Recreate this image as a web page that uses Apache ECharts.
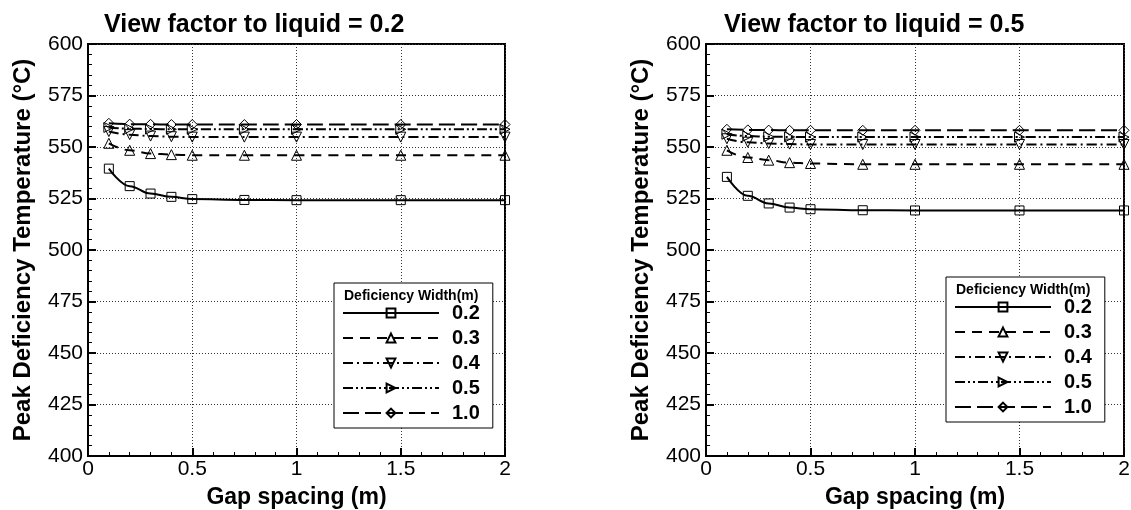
<!DOCTYPE html>
<html>
<head>
<meta charset="utf-8">
<script src="https://cdn.jsdelivr.net/npm/echarts@6/dist/echarts.min.js"></script>
<style>
html, body { margin: 0; padding: 0; background: #fff; }
#chart { width: 1131px; height: 510px; }
</style>
</head>
<body>
<div id="chart"></div>
<script>
// gap spacing (m)
var gaps = [0.1, 0.2, 0.3, 0.4, 0.5, 0.75, 1.0, 1.5, 2.0];
var widthNames = ['0.2', '0.3', '0.4', '0.5', '1.0'];

// view factor 0.2
var vf2_w02 = [539.5, 531, 527.4, 525.8, 524.7, 524.3, 524.2, 524.2, 524.2];
var vf2_w03 = [551.8, 548.4, 546.8, 546.3, 546, 546, 546, 546, 546];
var vf2_w04 = [557.5, 556, 555.3, 555, 554.8, 554.8, 554.8, 554.8, 554.8];
var vf2_w05 = [559.5, 558.9, 558.7, 558.6, 558.6, 558.6, 558.6, 558.6, 558.6];
var vf2_w10 = [561.5, 561.1, 561, 560.9, 560.9, 560.9, 560.9, 560.9, 560.9];

// view factor 0.5
var vf5_w02 = [535.5, 526.3, 522.6, 520.6, 519.8, 519.3, 519.2, 519.2, 519.2];
var vf5_w03 = [548.4, 544.9, 543.6, 542.4, 542, 541.6, 541.6, 541.6, 541.6];
var vf5_w04 = [554, 552.3, 551.7, 551.4, 551.2, 551.2, 551.2, 551.2, 551.2];
var vf5_w05 = [556.2, 555.3, 555, 554.9, 554.8, 554.8, 554.8, 554.8, 554.8];
var vf5_w10 = [558.6, 558.3, 558.2, 558.1, 558.1, 558.1, 558.1, 558.1, 558.1];

var yTicks = ['400', '425', '450', '475', '500', '525', '550', '575', '600'];

var FONT = 'Liberation Sans, Arial, Helvetica, sans-serif';

var styles = [
	{ symbol: 'rect', type: 'solid' },
	{ symbol: 'triangle', type: [10, 7] },
	{ symbol: 'path://M0,0 L10,0 L5,9 Z', type: [10, 4, 2, 4] },
	{ symbol: 'path://M0,0 L9,5 L0,10 Z', type: [10, 3, 2, 3, 2, 3] },
	{ symbol: 'diamond', type: [16, 6] }
];

function pairs(vals) {
	var out = [];
	for (var i = 0; i < gaps.length; i++) {
		out.push([gaps[i], vals[i]]);
	}
	return out;
}

function makeSeries(idx, sets) {
	var list = [];
	for (var i = 0; i < sets.length; i++) {
		list.push({
			name: widthNames[i],
			type: 'line',
			xAxisIndex: idx,
			yAxisIndex: idx,
			data: pairs(sets[i]),
			smooth: 0.4,
			smoothMonotone: 'x',
			symbol: styles[i].symbol,
			symbolSize: i == 0 ? 9 : 10,
			showAllSymbol: true,
			lineStyle: { color: '#000', width: 2, type: styles[i].type },
			itemStyle: { color: 'rgba(255,255,255,0)', borderColor: '#000', borderWidth: 1 },
			emphasis: { disabled: true },
			animation: false
		});
	}
	return list;
}

function xAxisDef(idx) {
	return {
		type: 'value', gridIndex: idx, min: 0, max: 2, interval: 0.5,
		name: 'Gap spacing (m)', nameLocation: 'middle', nameGap: 30,
		nameTextStyle: { fontFamily: FONT, fontSize: 23, fontWeight: 'bold', color: '#000' },
		axisLine: { lineStyle: { color: '#000', width: 2 } },
		axisTick: { inside: true, length: 8, lineStyle: { color: '#000', width: 2 } },
		minorTick: { show: true, splitNumber: 5, length: 4, lineStyle: { color: '#000', width: 1 } },
		axisLabel: { fontFamily: FONT, fontSize: 21, color: '#000', margin: 3,
			formatter: function(v) { return v.toString(); } },
		splitLine: { show: true, lineStyle: { color: '#333', width: 1, type: [1, 2] } }
	};
}

function yAxisDef(idx) {
	return {
		type: 'value', gridIndex: idx, min: 400, max: 600, interval: 25,
		name: 'Peak Deficiency Temperature (°C)', nameLocation: 'middle', nameGap: 53,
		nameTextStyle: { fontFamily: FONT, fontSize: 24, fontWeight: 'bold', color: '#000' },
		axisLine: { lineStyle: { color: '#000', width: 2 } },
		axisTick: { inside: true, length: 8, lineStyle: { color: '#000', width: 2 } },
		minorTick: { show: true, splitNumber: 5, length: 4, lineStyle: { color: '#000', width: 1 } },
		axisLabel: { fontFamily: FONT, fontSize: 21, color: '#000', margin: 5,
			formatter: function(v) { return yTicks[Math.round((v - 400) / 25)]; } },
		splitLine: { show: true, lineStyle: { color: '#333', width: 1, type: [1, 2] } }
	};
}

function legendDef(left, top) {
	return {
		left: left, top: top, orient: 'vertical',
		data: widthNames,
		itemWidth: 96, itemHeight: 11, itemGap: 5,
		padding: [20, 13, 5, 8],
		backgroundColor: '#fff', borderColor: '#000', borderWidth: 1, borderRadius: 0,
		selectedMode: false,
		textStyle: { fontFamily: FONT, fontSize: 20, fontWeight: 'bold', color: '#000', padding: [0, 0, 0, 8] }
	};
}

var myChart = echarts.init(document.getElementById('chart'));

var option = {
	backgroundColor: '#fff',
	animation: false,
	title: [
		{ text: 'View factor to liquid = 0.2', left: 99, top: 8,
			textStyle: { fontFamily: FONT, fontSize: 25, fontWeight: 'bold', color: '#000' } },
		{ text: 'View factor to liquid = 0.5', left: 719, top: 8,
			textStyle: { fontFamily: FONT, fontSize: 25, fontWeight: 'bold', color: '#000' } },
		{ text: 'Deficiency Width(m)', left: 339, top: 284, z: 10,
			textStyle: { fontFamily: FONT, fontSize: 14, fontWeight: 'bold', color: '#000' } },
		{ text: 'Deficiency Width(m)', left: 951, top: 278, z: 10,
			textStyle: { fontFamily: FONT, fontSize: 14, fontWeight: 'bold', color: '#000' } }
	],
	grid: [
		{ left: 88, top: 44, width: 417, height: 412, outerBoundsMode: 'none', show: true, borderColor: '#000', borderWidth: 2, backgroundColor: 'transparent' },
		{ left: 706, top: 44, width: 418, height: 412, outerBoundsMode: 'none', show: true, borderColor: '#000', borderWidth: 2, backgroundColor: 'transparent' }
	],
	legend: [legendDef(334, 283), legendDef(946, 277)],
	xAxis: [xAxisDef(0), xAxisDef(1)],
	yAxis: [yAxisDef(0), yAxisDef(1)],
	series: makeSeries(0, [vf2_w02, vf2_w03, vf2_w04, vf2_w05, vf2_w10])
		.concat(makeSeries(1, [vf5_w02, vf5_w03, vf5_w04, vf5_w05, vf5_w10]))
};

myChart.setOption(option);
</script>
</body>
</html>
